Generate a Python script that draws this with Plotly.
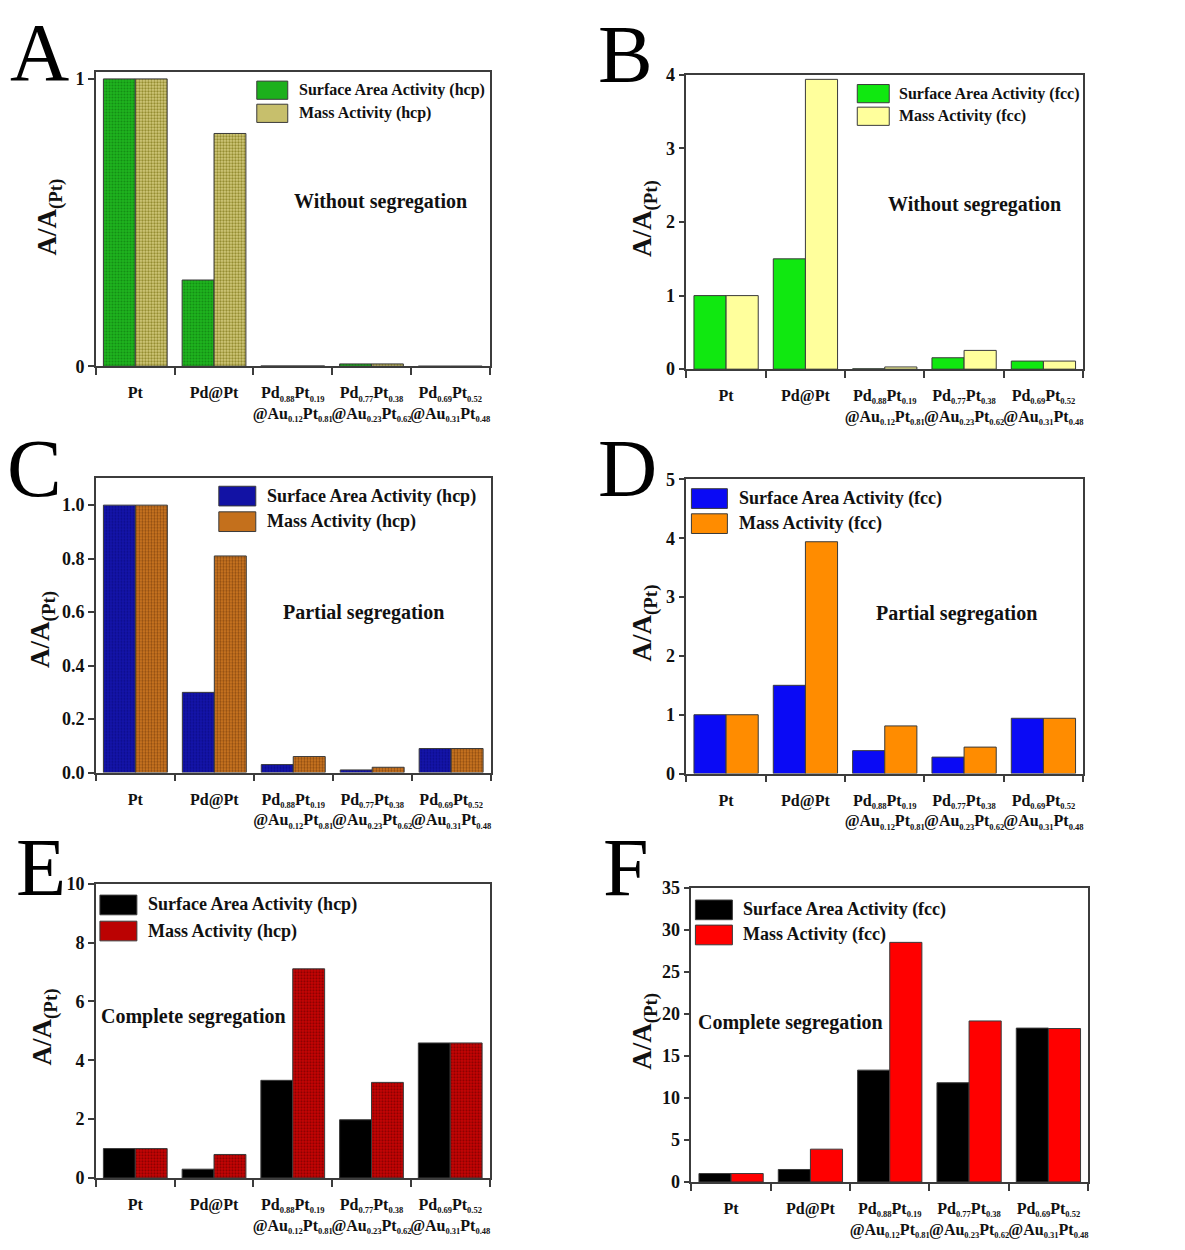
import plotly.graph_objects as go

W, H = 1185, 1250

# ---------------- data ----------------
SUB = '<sub><span style="font-size:8.5px">%s</span></sub>'
categories = [
    "Pt",
    "Pd@Pt",
    "Pd" + SUB % "0.88" + "Pt" + SUB % "0.19" + "<br>@Au" + SUB % "0.12" + "Pt" + SUB % "0.81",
    "Pd" + SUB % "0.77" + "Pt" + SUB % "0.38" + "<br>@Au" + SUB % "0.23" + "Pt" + SUB % "0.62",
    "Pd" + SUB % "0.69" + "Pt" + SUB % "0.52" + "<br>@Au" + SUB % "0.31" + "Pt" + SUB % "0.48",
]

a_surface = [1.0, 0.30, 0.001, 0.008, 0.0]
a_mass = [1.0, 0.81, 0.001, 0.008, 0.0]

b_surface = [1.0, 1.50, 0.005, 0.155, 0.11]
b_mass = [1.0, 3.94, 0.03, 0.255, 0.11]

c_surface = [1.0, 0.30, 0.03, 0.01, 0.09]
c_mass = [1.0, 0.81, 0.06, 0.02, 0.09]

d_surface = [1.0, 1.50, 0.39, 0.28, 0.94]
d_mass = [1.0, 3.94, 0.81, 0.45, 0.94]

e_surface = [1.0, 0.30, 3.32, 1.98, 4.59]
e_mass = [1.0, 0.80, 7.11, 3.25, 4.59]

f_surface = [1.0, 1.48, 13.3, 11.8, 18.3]
f_mass = [1.0, 3.9, 28.5, 19.15, 18.25]

a_ticks = [0, 1]
b_ticks = [0, 1, 2, 3, 4]
c_ticks = [0.0, 0.2, 0.4, 0.6, 0.8, 1.0]
d_ticks = [0, 1, 2, 3, 4, 5]
e_ticks = [0, 2, 4, 6, 8, 10]
f_ticks = [0, 5, 10, 15, 20, 25, 30, 35]

FONT = "Liberation Serif"

panels = [
    dict(letter="A", sa=a_surface, ma=a_mass, phase="hcp", note="Without segregation",
         box=(96, 490, 63, 362), yr=[0, 1.024], ticks=a_ticks, fmt="",
         sa_col="#1fb41f", sa_pat=("#138c13", 0.35), ma_col="#d2ca7c", ma_pat=("#938a2e", 0.45),
         sa_leg="#1cb01c", ma_leg="#c7bf6c",
         leg=(257, 288, 81.5, 105, 297, 16), note_xy=(381, 195),
         ytitle=(50, 210), letter_xy=(8, 75)),
    dict(letter="B", sa=b_surface, ma=b_mass, phase="fcc", note="Without segregation",
         box=(687, 1084, 66, 365), yr=[0, 4], ticks=b_ticks, fmt="",
         sa_col="#10e810", sa_pat=None, ma_col="#ffff9c", ma_pat=None,
         sa_leg="#10e810", ma_leg="#ffff9c",
         leg=(858, 890, 85, 108, 898, 16), note_xy=(975, 198),
         ytitle=(645, 212), letter_xy=(597, 77)),
    dict(letter="C", sa=c_surface, ma=c_mass, phase="hcp", note="Partial segregation",
         box=(96, 491, 476, 775), yr=[0, 1.1], ticks=c_ticks, fmt=".1f",
         sa_col="#1414aa", sa_pat=("#0c0c88", 0.3), ma_col="#d27a22", ma_pat=("#8c4a10", 0.45),
         sa_leg="#1212a4", ma_leg="#c4701c",
         leg=(219, 256, 494, 520, 265, 18), note_xy=(364, 612),
         ytitle=(43, 629), letter_xy=(5, 498)),
    dict(letter="D", sa=d_surface, ma=d_mass, phase="fcc", note="Partial segregation",
         box=(687, 1084, 477, 776), yr=[0, 5], ticks=d_ticks, fmt="",
         sa_col="#0a0af5", sa_pat=None, ma_col="#ff8c00", ma_pat=None,
         sa_leg="#0a0af5", ma_leg="#ff8c00",
         leg=(692, 728, 496.5, 522, 738, 18), note_xy=(957, 613),
         ytitle=(645, 623), letter_xy=(597, 498)),
    dict(letter="E", sa=e_surface, ma=e_mass, phase="hcp", note="Complete segregation",
         box=(96, 490, 888, 1187), yr=[0, 10], ticks=e_ticks, fmt="",
         sa_col="#000000", sa_pat=None, ma_col="#c80404", ma_pat=("#820000", 0.4),
         sa_leg="#000000", ma_leg="#bb0202",
         leg=(100, 137, 909.5, 936, 146, 18), note_xy=(194, 1023),
         ytitle=(45, 1033), letter_xy=(14, 903)),
    dict(letter="F", sa=f_surface, ma=f_mass, phase="fcc", note="Complete segregation",
         box=(692, 1089, 892, 1191), yr=[0, 35], ticks=f_ticks, fmt="",
         sa_col="#000000", sa_pat=None, ma_col="#ff0000", ma_pat=None,
         sa_leg="#000000", ma_leg="#ff0000",
         leg=(696, 733, 914.5, 940, 742, 18), note_xy=(791, 1029),
         ytitle=(645, 1038), letter_xy=(602, 903)),
]


def px(x):
    return x / W


def py(y):
    return 1 - y / H


fig = go.Figure()
shapes = []
annotations = []
xpos = list(range(len(categories)))

for i, p in enumerate(panels):
    n = "" if i == 0 else str(i + 1)
    xa, ya = "x" + n, "y" + n
    x0, x1, y0, y1 = p["box"]

    def marker(col, pat):
        m = dict(color=col, line=dict(color="#3a3a3a", width=1))
        if pat:
            m["pattern"] = dict(shape=".", size=3, solidity=pat[1], fgcolor=pat[0],
                                bgcolor=col, fillmode="replace")
        return m

    fig.add_trace(go.Bar(x=xpos, y=p["sa"], name="Surface Area Activity (%s)" % p["phase"],
                         marker=marker(p["sa_col"], p["sa_pat"]), xaxis=xa, yaxis=ya,
                         showlegend=False))
    fig.add_trace(go.Bar(x=xpos, y=p["ma"], name="Mass Activity (%s)" % p["phase"],
                         marker=marker(p["ma_col"], p["ma_pat"]), xaxis=xa, yaxis=ya,
                         showlegend=False))

    axline = dict(showline=True, linecolor="#3c3c3c", linewidth=1.5, mirror=True,
                  showgrid=False, zeroline=False)
    fig.layout["xaxis" + n] = dict(
        domain=[px(x0), px(x1)], anchor=ya, range=[-0.5, 4.5],
        tickmode="array", tickvals=xpos, ticktext=categories,
        ticks="outside", ticklen=11, tickcolor="rgba(0,0,0,0)",
        tickfont=dict(family=FONT, size=16, color="#111", weight="bold"),
        minor=dict(tickmode="array", tickvals=[-0.5, 0.5, 1.5, 2.5, 3.5, 4.5],
                   ticks="outside", ticklen=7, tickwidth=1.5, tickcolor="#3c3c3c"),
        tickangle=0, fixedrange=True, **axline)
    fig.layout["yaxis" + n] = dict(
        domain=[py(y1), py(y0)], anchor=xa, range=p["yr"],
        tickmode="array", tickvals=p["ticks"], tickformat=p["fmt"],
        ticks="outside", ticklen=6, tickwidth=1.5, tickcolor="#3c3c3c",
        tickfont=dict(family=FONT, size=18, color="#111", weight="bold"),
        fixedrange=True, **axline)

    # legend (drawn inside each panel)
    bx0, bx1, r1, r2, tx, fs = p["leg"]
    bh = 20 if fs == 18 else 18.5
    for cy, col, label in [(r1, p["sa_leg"], "Surface Area Activity (%s)" % p["phase"]),
                           (r2, p["ma_leg"], "Mass Activity (%s)" % p["phase"])]:
        shapes.append(dict(type="rect", xref="paper", yref="paper",
                           x0=px(bx0), x1=px(bx1), y0=py(cy + bh / 2), y1=py(cy - bh / 2),
                           fillcolor=col, line=dict(color="#3a3a3a", width=1)))
        annotations.append(dict(xref="paper", yref="paper", x=px(tx), y=py(cy),
                                xanchor="left", yanchor="middle", showarrow=False,
                                text=label,
                                font=dict(family=FONT, size=fs, color="#111", weight="bold")))

    # condition note
    nx, ny = p["note_xy"]
    annotations.append(dict(xref="paper", yref="paper", x=px(nx), y=py(ny),
                            xanchor="center", yanchor="middle", showarrow=False,
                            text=p["note"],
                            font=dict(family=FONT, size=20, color="#111", weight="bold")))

    # y axis title
    tx_, ty_ = p["ytitle"]
    annotations.append(dict(xref="paper", yref="paper", x=px(tx_), y=py(ty_),
                            xanchor="center", yanchor="middle", showarrow=False,
                            textangle=-90, text="A/A<sub>(Pt)</sub>",
                            font=dict(family=FONT, size=27, color="#111", weight="bold")))

    # panel letter
    lx, lb = p["letter_xy"]
    annotations.append(dict(xref="paper", yref="paper", x=px(lx), y=py(lb - 32),
                            xanchor="left", yanchor="middle", showarrow=False,
                            text=p["letter"],
                            font=dict(family=FONT, size=82, color="#000")))

fig.update_layout(
    width=W, height=H, margin=dict(l=0, r=0, t=0, b=0),
    paper_bgcolor="white", plot_bgcolor="white",
    barmode="group", bargap=0.19, bargroupgap=0,
    shapes=shapes, annotations=annotations, showlegend=False,
)

fig.write_html("out.html")
